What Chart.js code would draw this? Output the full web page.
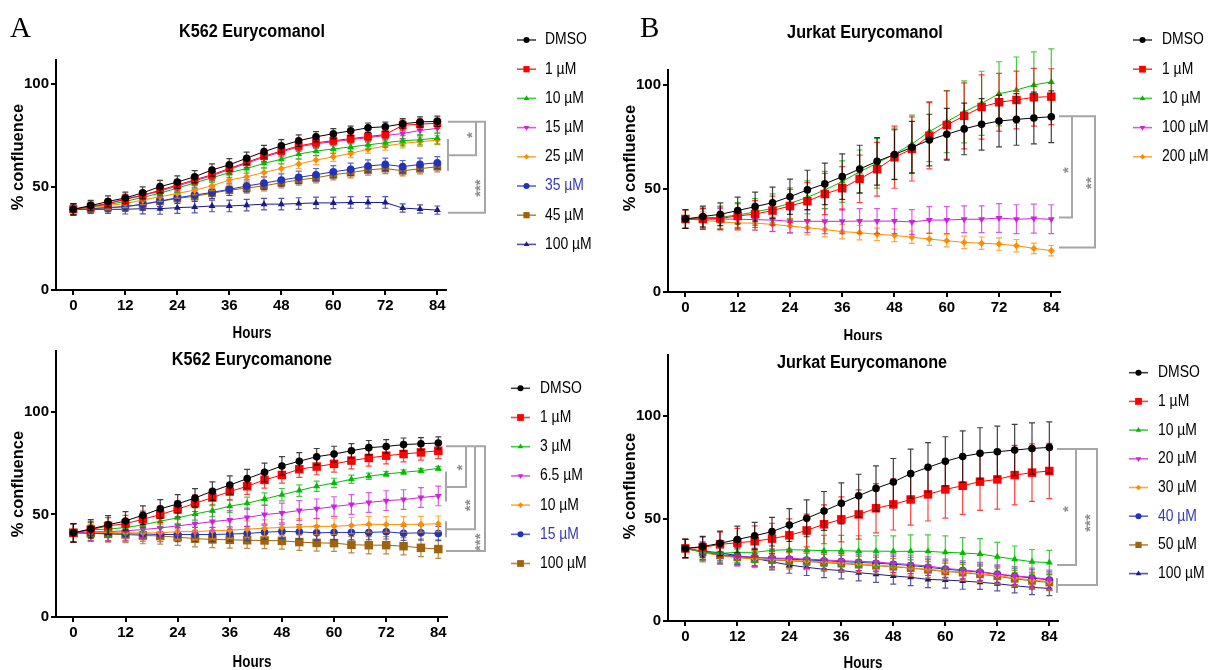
<!DOCTYPE html>
<html><head><meta charset="utf-8">
<script src="https://cdn.jsdelivr.net/npm/chart.js@4.4.1/dist/chart.umd.min.js"></script>
<style>
html,body{margin:0;padding:0;background:#fff;}
#wrap{position:relative;width:1208px;height:670px;overflow:hidden;background:#fff;}
canvas{position:absolute;}
</style></head><body>
<div id="wrap">
<canvas id="cA" width="610" height="340" style="left:0;top:0"></canvas>
<canvas id="cB" width="598" height="340" style="left:610px;top:0"></canvas>
<canvas id="cC" width="610" height="330" style="left:0;top:340px"></canvas>
<canvas id="cD" width="598" height="330" style="left:610px;top:340px"></canvas>
</div>
<script>
// ---------- shared ----------
const hours = [0,4,8,12,16,20,24,28,32,36,40,44,48,52,56,60,64,68,72,76,80,84];
const xTicks = [0,12,24,36,48,60,72,84];
const yTicks = [0,50,100];

// ---------- Panel A: K562 Eurycomanol ----------
const aLabels = ['DMSO','1 µM','10 µM','15 µM','25 µM','35 µM','45 µM','100 µM'];
const aDMSO = [39.2,41,43,44.7,47.2,50.2,52.4,55,58.3,60.8,64,67.2,70,72.5,74.4,75.9,77.3,78.8,79.3,80.7,81.6,81.9];
const a1    = [39.2,40.5,42,44,46,48.5,51,53.5,56,59,62,65,67.5,70,71.5,72.5,73.5,74.5,75.5,80,80.5,81];
const a10   = [39.2,40.5,41.5,43,45,47,49.5,52,54.5,57,59,61.5,63.5,66,67.5,68.5,69.5,70.5,71.5,72.5,73,73.8];
const a15   = [39.2,40.5,42,44.3,46,48,50.5,53,55.5,58.5,61.5,64.5,67,69.5,71,72,73,74,75,76,77.5,78.5];
const a25   = [39.2,40.1,41,42,43.7,45.3,46.9,48.5,50.6,53.4,55,57.1,59,61.2,63.1,64.7,66.3,68.4,69.9,71.2,72,72.8];
const a35   = [39.2,39.5,40,40.5,41.7,43.2,44.8,46.1,47.4,48.9,50.5,51.9,53.4,54.7,56,57.4,58.6,60.2,61,59.9,61,61.8];
const a45   = [39.2,39.5,40,40.5,41.5,43,44.5,45.5,47,48.5,49.5,50.6,52.1,53.4,54.5,56,57,58.3,59,57.9,58.9,59.9];
const a100  = [39.2,39.2,39.2,39.2,39.5,39.5,40,40.3,40.8,40.8,41.2,41.7,41.7,42,42.3,42.3,42.5,42.5,42.5,39.8,39.3,38.8];
const aDMSOErr = [2.7,2.5,2.7,2.8,2.9,3,3,3,3,3,3,3,3,2.8,2.5,2.5,2.3,2.3,2.2,2.5,2.5,2.5];
const a1Err    = [2.7,2.2,2.2,2.3,2.3,2.5,2.5,2.5,2.5,2.5,2.5,2.5,2.3,2.2,2.2,2,2,2.2,2.2,2.5,2.5,2.5];
const a10Err   = [2.7,2,2,2,2,2.2,2.2,2.3,2.3,2.3,2.3,2.3,2.3,2.3,2.2,2.2,2.2,2.2,2.2,2.5,2.5,2.8];
const a15Err   = [2.7,2.2,2.2,2.3,2.3,2.5,2.5,2.5,2.5,2.5,2.5,2.5,2.3,2.2,2.2,2,2,2.2,2.2,2.5,2.5,2.5];
const a25Err   = [2.7,2,2,2,2.2,2.3,2.3,2.3,2.3,2.3,2.3,2.3,2.3,2.2,2.2,2.2,2,2,2,2.2,2.2,2.2];
const a35Err   = [2.7,2,2,2.2,2.5,2.7,2.8,3,3,3,3,3,3,3,3,3,3,3,3,3,3,3];
const a45Err   = [2.7,2,2,2.2,2.3,2.5,2.5,2.5,2.5,2.5,2.5,2.5,2.5,2.5,2.5,2.5,2.5,2.5,2.5,2.5,2.5,2.5];
const a100Err  = [2.5,2,2,2.3,2.5,2.7,2.8,2.8,2.8,2.8,2.8,2.8,2.8,2.8,2.8,2.8,2.8,2.8,2.8,2,2,2];

// ---------- Panel B: Jurkat Eurycomanol ----------
const bLabels = ['DMSO','1 µM','10 µM','100 µM','200 µM'];
const bDMSO = [35.3,36.5,37.6,39.4,41.3,43.2,46.1,49.4,52.3,55.8,59.5,63.2,66.5,70,73.5,76.3,78.9,81.1,82.7,83.5,84.2,84.8];
const b1    = [35.3,35.3,35.6,36.8,37.7,39.4,41.6,43.9,47.4,50.2,54.7,59.4,65.2,69.2,75.6,80.8,85.2,89.5,91.8,92.9,94.2,94.5];
const b10   = [35.3,36,36.1,37.3,38.7,40.5,42.9,45.8,49.4,53.4,58.2,62.3,66.8,71.6,77.6,82.4,87.1,91.3,95.9,97.7,100.2,101.6];
const b100  = [35.3,35.3,35.3,35.2,35,34.8,34.2,34.2,34.2,34.2,34.3,34.3,34.3,33.9,34.8,34.8,35.2,35.2,35.8,35.2,35.5,35.2];
const b200  = [35.3,34.8,33.9,33.4,33.3,32.7,31.9,31.1,30.2,29.2,28.7,27.9,27.4,26.5,25.6,24.8,24,23.6,23.2,22.4,21.1,20];
const bDMSOErr = [4.5,5,5.5,6.5,7,7.5,8.5,9.5,10,11,11.5,11.5,12,12.5,12.5,12.5,12.5,12.5,12.5,12.5,12.5,12.5];
const b1Err    = [4.5,5,5.5,6,6.5,7,8,9,10,10.5,11.5,13,15,15.5,16,16.5,16,15.5,14,14,14,13.5];
const b10Err   = [4.5,5,5.5,6,6.5,7,7.5,8,9,10,10.5,12,12.5,14,14.5,15,15,15.5,15.5,16,16,16];
const b100Err  = [4.5,5,5,5,5,5.5,5.5,5.5,6,6,6,6,6,6,6.5,6.5,6.5,6.5,7,7,7,7];
const b200Err  = [4.5,4,3.5,3.5,3.5,3.5,3.5,3.5,3.5,3.5,3.5,3,3,3,3,3,3,3,3,3,2.5,2.5];

// ---------- Panel C: K562 Eurycomanone ----------
const cLabels = ['DMSO','1 µM','3 µM','6.5 µM','10 µM','15 µM','100 µM'];
const cDMSO = [41,42.9,44.9,46.8,49.6,52.7,55.1,58,61.3,64.3,67.4,70.5,73.6,75.9,78.1,79.4,81,82.5,83.1,84,84.4,84.8];
const c1    = [41,42.6,44.4,45.5,47.6,49.9,52.5,55.4,58.2,61.1,63.7,66.8,69.2,72,73.3,74.6,76.2,77.5,78.6,79.4,80.2,81];
const c3    = [41,42.5,42.8,43.6,44.9,46.7,48.3,50.2,51.9,54,55.4,57.5,59.6,61.6,63.7,65.3,67.1,68.6,69.7,70.5,71.3,72.4];
const c65   = [41,41.5,41.6,42,42.6,43.4,44.4,45.4,46.5,47.3,48.5,49.9,50.7,51.9,52.7,53.8,54.8,55.8,56.7,57.2,58.2,59];
const c10   = [41,41,41.2,41,41,41,41.6,41.6,42,42.3,42.8,43.3,43.6,43.9,44.1,44.2,44.6,45.2,45.1,45.1,45.2,45.4];
const c15   = [41,40.8,40.5,40.5,40.4,40.2,40.2,40.2,40.2,40.4,40.7,41.3,41.7,41.5,41,41.2,41.2,41.2,41.5,40.8,41,40.7];
const c100  = [41,40.8,40.5,40.2,39.7,39.5,38.9,38.2,37.8,37.6,37.4,37.3,37.1,36.5,36.1,36,35.2,35,35,34.5,33.7,33.1];
const cDMSOErr = [4.5,4.5,4.5,4.5,4.5,4.5,4.5,4.5,4.5,4.5,4.5,4.5,4.5,4.2,4,3.8,3.5,3.5,3.3,3.2,3,3];
const c1Err    = [4.5,4,4,4,4,4,4,4,4,4,4,4,4,4,4,4,4,4,4,3.8,3.8,3.8];
const c3Err    = [4.5,3.5,3.5,3.5,3.5,3.3,3.2,3,3,3,3,3,3,2.8,2.5,2.3,2,1.5,1.2,1.2,1,1];
const c65Err   = [4.5,4.5,4.5,4.5,4.5,4.5,4.5,4.5,4.5,4.5,4.5,4.5,4.8,4.8,4.8,4.8,4.8,4.8,4.8,4.8,4.8,4.8];
const c10Err   = [4.5,4,4,4,4,4,4,4,4,4,4,4,4,4,4,4,4,3.8,3.8,3.8,3.8,3.8];
const c15Err   = [4.5,3.5,3.5,3.5,3.5,3.5,3.5,3.5,3.5,3.5,3.5,3.5,3.5,3.5,3.5,3.5,3.5,3.5,3.5,3.5,3.5,3.5];
const c100Err  = [4.5,4,4,4,4,4,4,4,4,4,4,4,4,4,4,4,4,4.2,4.2,4.2,4.3,4.5];

// ---------- Panel D: Jurkat Eurycomanone ----------
const dLabels = ['DMSO','1 µM','10 µM','20 µM','30 µM','40 µM','50 µM','100 µM'];
const dDMSO = [35.4,36.3,37.9,39.8,41.6,43.6,46.8,50.1,53.7,57.4,61.1,64.7,67.8,71.9,75,77.9,80.3,81.8,82.6,83.4,84.2,84.7];
const d1    = [35.4,35.9,37.4,38.2,38.9,40.2,41.8,44.2,47.2,49.6,52,55,56.9,59.3,61.8,64.2,66,68,69.1,71.2,72.4,73.2];
const d10   = [35.4,33.8,33,33.5,33.5,34.5,34.8,34.6,34.3,34.3,34.1,34.1,34,34,34,33.5,33.2,32.7,31.4,30.1,28.9,28.5];
const d20   = [35.4,33.8,32.2,31.4,31.1,30.7,30.6,30.2,29.8,29.4,29.1,28.8,28.1,27.6,26.8,25.7,24.9,24.1,22.9,22.1,21.3,20.3];
const d30   = [35.4,33.6,32,31,30.4,30,29.6,29.2,28.8,28.3,27.8,27.2,26.6,26,25.2,24.4,23.8,23,22.2,21,20,19.2];
const d40   = [35.4,33.8,32.4,31.6,31,30.5,30.2,29.8,29.4,29,28.6,28.2,27.7,27.1,26.2,25.3,24.6,23.8,22.8,21.8,21,20];
const d50   = [35.4,33.5,32,31,30.2,29.8,29.4,29,28.5,28,27.5,27,26.5,25.8,25,24.2,23.6,22.8,21.8,20.6,19.6,18.8];
const d100  = [35.4,34.1,33.3,31.9,30.6,28.9,27.3,26.2,25.2,24.6,23.6,22.8,22,21.3,20.3,20,19.5,18.9,18.2,17.2,16.4,15.9];
const dDMSOErr = [4.5,5,6,6.5,6.5,7,8,9,9.5,10,10.5,11,11.5,12,12,12,12.5,12.5,12.5,12.5,12.5,12.5];
const d1Err    = [4.5,5,6,7,7.5,7.5,8,8,9.5,11,12,12,12.5,12.5,13,14,14,14,14.5,14.5,14,13.5];
const d10Err   = [4.5,5,5,5,5,6,7,7.5,7.5,7.5,7.5,7.5,7.5,8,8,8,7.5,7.5,7,6.5,6,6];
const d20Err   = [4.5,4.5,4.5,4.5,4.5,4.5,4.5,4.5,4.5,4.5,4.5,4.5,4.5,4.5,4.5,4.5,4.5,4.5,4.5,4.5,4.5,4.5];
const d30Err   = [4.5,4,4,4,4,4,4,4,4,4,4,4,4,4,4,4,4,4,4,4,4,4];
const d40Err   = [4.5,4,4,4,4,4,4,4,4,4,4,4,4,4,4,4,4,4,4,4,4,4];
const d50Err   = [4.5,4,4,4,4,4,4,4,4,4,4,4,4,4,4,4,4,4,4,4,4,4];
const d100Err  = [4.5,4,4,4,4,4,4,4,4,4,4,4,4,4,4,4,4,3.5,3.5,3.5,3.5,3.5];

// ---------- styles ----------
const COL = {black:'#000000', red:'#ff0000', green:'#00bb00', magenta:'#cc22dd', orange:'#ff8c00',
             blue:'#2233bb', brown:'#a0620a', navy:'#1a1a8c'};
const BLUE_TEXT = '#3838b8';
function rgba(hex,a){const n=parseInt(hex.slice(1),16);return `rgba(${n>>16&255},${n>>8&255},${n&255},${a})`;}
function S(label,data,err,color,style,r,rot,textColor){return {label,data,err,color,style,r,rot:rot||0,textColor:textColor||'#000'};}

const TICK_FONT = {family:'"Liberation Sans Narrow","Arial Narrow","Liberation Sans",Arial,sans-serif', size:15, weight:'bold'};
const SANS = '"Liberation Sans",Arial,Helvetica,sans-serif';

function marker(ctx, style, x, y, r, rot, color){
  ctx.fillStyle = color; ctx.beginPath();
  if (style==='circle') ctx.arc(x,y,r,0,Math.PI*2);
  else if (style==='rect'){const s=r*Math.SQRT1_2; ctx.rect(x-s,y-s,2*s,2*s);}
  else if (style==='rectRot'){ctx.moveTo(x,y-r);ctx.lineTo(x+r,y);ctx.lineTo(x,y+r);ctx.lineTo(x-r,y);ctx.closePath();}
  else if (style==='triangle'){let a=rot*Math.PI/180;
    for(let k=0;k<3;k++){const px=x+Math.sin(a)*r, py=y-Math.cos(a)*r; if(k===0)ctx.moveTo(px,py); else ctx.lineTo(px,py); a+=2*Math.PI/3;}
    ctx.closePath();}
  ctx.fill();
}
function txt(ctx,t,x,y,font,sx,align,color){
  ctx.save(); ctx.translate(x,y); ctx.scale(sx,1); ctx.font=font; ctx.textAlign=align; ctx.textBaseline='middle';
  ctx.fillStyle=color||'#000'; ctx.fillText(t,0,0); ctx.restore();
}

const errPlugin = {
  id:'errbars',
  beforeDatasetDraw(chart,args){
    const ds = chart.data.datasets[args.index]; if(!ds.errors) return;
    const ctx=chart.ctx, ys=chart.scales.y;
    ctx.save(); ctx.strokeStyle=rgba(ds.borderColor,0.75); ctx.lineWidth=1.2;
    args.meta.data.forEach((pt,i)=>{
      const v=ds.data[i].y, e=ds.errors[i];
      const y1=ys.getPixelForValue(v+e), y2=ys.getPixelForValue(v-e), x=pt.x;
      ctx.beginPath();
      ctx.moveTo(x,y1);ctx.lineTo(x,y2);
      ctx.moveTo(x-3,y1);ctx.lineTo(x+3,y1);
      ctx.moveTo(x-3,y2);ctx.lineTo(x+3,y2);
      ctx.stroke();
    });
    ctx.restore();
  }
};

function makeDecor(P){
  return {id:'decor', afterDraw(chart){
    const ctx=chart.ctx, ys=chart.scales.y;
    if(P.letter){ctx.save();ctx.font='29px "Liberation Serif","Times New Roman",serif';ctx.fillStyle='#000';ctx.textAlign='left';ctx.textBaseline='alphabetic';ctx.fillText(P.letter.t,P.letter.x,P.letter.y);ctx.restore();}
    txt(ctx,P.title.t,P.title.x,P.title.y,'bold 18px '+SANS,0.9,'center');
    txt(ctx,'Hours',P.hours.x,P.hours.y,'bold 17px '+SANS,0.79,'center');
    ctx.save(); ctx.translate(P.ylab.x,P.ylab.y); ctx.rotate(-Math.PI/2); ctx.font='bold 16.5px '+SANS;
    ctx.textAlign='center'; ctx.textBaseline='middle'; ctx.fillStyle='#000'; ctx.fillText('% confluence',0,0); ctx.restore();
    // legend
    const L=P.legend;
    P.series.forEach((s,i)=>{
      const y=L.y0+i*L.dy;
      ctx.save(); ctx.strokeStyle=rgba(s.color,0.75); ctx.lineWidth=1.6; ctx.beginPath();
      ctx.moveTo(L.x,y); ctx.lineTo(L.x+19,y); ctx.stroke(); ctx.restore();
      marker(ctx,s.style,L.x+9.5,y,s.r*0.8,s.rot,s.color);
      txt(ctx,s.label,L.tx,y,'16px '+SANS,0.87,'left',s.textColor);
    });
    // brackets
    const B=P.brackets;
    ctx.save(); ctx.strokeStyle='#a6a6a6'; ctx.lineWidth=2; ctx.lineCap='butt';
    const yTop=ys.getPixelForValue(B.top);
    const xMax=Math.max(...B.items.map(it=>it.x));
    ctx.beginPath(); ctx.moveTo(B.x0,yTop); ctx.lineTo(xMax+1,yTop); ctx.stroke();
    B.items.forEach(it=>{
      const yb=ys.getPixelForValue(it.bottom);
      ctx.beginPath(); ctx.moveTo(it.x,yTop); ctx.lineTo(it.x,yb); ctx.lineTo(B.x0,yb); ctx.stroke();
      if(it.group){ctx.beginPath(); ctx.moveTo(B.x0,ys.getPixelForValue(it.group[0])); ctx.lineTo(B.x0,ys.getPixelForValue(it.group[1])); ctx.stroke();}
      ctx.save(); ctx.translate(it.lx,ys.getPixelForValue(it.lv)); ctx.rotate(-Math.PI/2);
      ctx.font='bold 15px '+SANS; ctx.fillStyle='#8c8c8c'; ctx.textAlign='center'; ctx.textBaseline='middle';
      ctx.fillText(it.label,0,3); ctx.restore();
    });
    ctx.restore();
  }};
}

function makeChart(id,P){
  const axisCommon = {
    grid:{display:true,drawOnChartArea:false,drawTicks:true,tickLength:5,color:'#000',lineWidth:2},
    border:{display:true,color:'#000',width:2},
  };
  return new Chart(document.getElementById(id),{
    type:'line',
    data:{datasets:P.series.map(s=>({
      label:s.label, data:hours.map((h,i)=>({x:h,y:s.data[i]})), errors:s.err,
      borderColor:s.color, backgroundColor:s.color, borderWidth:1,
      pointStyle:s.style, pointRadius:s.r, pointHoverRadius:s.r, pointRotation:s.rot,
      pointBackgroundColor:s.color, pointBorderWidth:0, tension:0, fill:false, clip:false
    }))},
    options:{
      responsive:false, animation:false, devicePixelRatio:1, events:[],
      layout:{padding:P.pad},
      scales:{
        x:Object.assign({type:'linear',min:-4,max:86,
          afterBuildTicks:s=>{s.ticks=xTicks.map(v=>({value:v}));},
          afterFit:s=>{s.height=25;},
          ticks:{font:TICK_FONT,color:'#000',padding:2,maxRotation:0,autoSkip:false}},axisCommon),
        y:Object.assign({type:'linear',min:0,max:P.yMax,
          afterBuildTicks:s=>{s.ticks=yTicks.map(v=>({value:v}));},
          afterFit:s=>{s.width=P.yw;},
          ticks:{font:TICK_FONT,color:'#000',padding:2,autoSkip:false}},axisCommon)
      },
      plugins:{legend:{display:false},tooltip:{enabled:false}}
    },
    plugins:[errPlugin,makeDecor(P)]
  });
}

// ---------- Build panels ----------
makeChart('cA',{
  yMax:111.7, yw:56, pad:{left:0,right:164,top:60,bottom:25},
  letter:{t:'A',x:10,y:37}, title:{t:'K562 Eurycomanol',x:252,y:32},
  hours:{x:252,y:333}, ylab:{x:18,y:157},
  legend:{x:517,tx:545,y0:40,dy:29.2},
  series:[
    S(aLabels[0],aDMSO,aDMSOErr,COL.black,'circle',3.8),
    S(aLabels[1],a1,a1Err,COL.red,'rect',5.5),
    S(aLabels[2],a10,a10Err,COL.green,'triangle',4),
    S(aLabels[3],a15,a15Err,COL.magenta,'triangle',4,180),
    S(aLabels[4],a25,a25Err,COL.orange,'rectRot',3.5),
    S(aLabels[5],a35,a35Err,COL.blue,'circle',3.8,0,BLUE_TEXT),
    S(aLabels[6],a45,a45Err,COL.brown,'rect',5.5),
    S(aLabels[7],a100,a100Err,COL.navy,'triangle',4)
  ],
  brackets:{x0:448,top:81.7,items:[
    {x:476,bottom:65.5,group:[73.3,57.8],label:'*',lx:470,lv:75.2},
    {x:485,bottom:37.5,label:'***',lx:478,lv:49.5}
  ]}
});

makeChart('cB',{
  yMax:107.4, yw:58, pad:{left:0,right:148,top:70,bottom:23},
  letter:{t:'B',x:30,y:37}, title:{t:'Jurkat Eurycomanol',x:255,y:33},
  hours:{x:253,y:336}, ylab:{x:20,y:158},
  legend:{x:523,tx:552,y0:40,dy:29.2},
  series:[
    S(bLabels[0],bDMSO,bDMSOErr,COL.black,'circle',3.8),
    S(bLabels[1],b1,b1Err,COL.red,'rect',6),
    S(bLabels[2],b10,b10Err,COL.green,'triangle',4),
    S(bLabels[3],b100,b100Err,COL.magenta,'triangle',4,180),
    S(bLabels[4],b200,b200Err,COL.orange,'rectRot',3.5)
  ],
  brackets:{x0:449,top:85,items:[
    {x:462,bottom:36,label:'*',lx:456,lv:59},
    {x:485,bottom:21.5,label:'**',lx:479,lv:52.7}
  ]}
});

makeChart('cC',{
  yMax:129.6, yw:56, pad:{left:0,right:163,top:10,bottom:28},
  title:{t:'K562 Eurycomanone',x:252,y:20},
  hours:{x:252,y:322}, ylab:{x:18,y:144},
  legend:{x:511,tx:540,y0:48.3,dy:29.2},
  series:[
    S(cLabels[0],cDMSO,cDMSOErr,COL.black,'circle',3.8),
    S(cLabels[1],c1,c1Err,COL.red,'rect',6),
    S(cLabels[2],c3,c3Err,COL.green,'triangle',4),
    S(cLabels[3],c65,c65Err,COL.magenta,'triangle',4,180),
    S(cLabels[4],c10,c10Err,COL.orange,'rectRot',3.5),
    S(cLabels[5],c15,c15Err,COL.blue,'circle',3.8,0,BLUE_TEXT),
    S(cLabels[6],c100,c100Err,COL.brown,'rect',6)
  ],
  brackets:{x0:446,top:83.2,items:[
    {x:466,bottom:63.3,group:[70.9,56.3],label:'*',lx:460,lv:72.8},
    {x:475,bottom:42.7,group:[46.7,38.8],label:'**',lx:468,lv:54.4},
    {x:485,bottom:32.2,label:'***',lx:478,lv:36.4}
  ]}
});

makeChart('cD',{
  yMax:129.8, yw:58, pad:{left:0,right:150,top:15,bottom:24},
  title:{t:'Jurkat Eurycomanone',x:252,y:23},
  hours:{x:253,y:323}, ylab:{x:20,y:146},
  legend:{x:519,tx:548,y0:32.7,dy:28.7},
  series:[
    S(dLabels[0],dDMSO,dDMSOErr,COL.black,'circle',3.8),
    S(dLabels[1],d1,d1Err,COL.red,'rect',6),
    S(dLabels[2],d10,d10Err,COL.green,'triangle',4),
    S(dLabels[3],d20,d20Err,COL.magenta,'triangle',4,180),
    S(dLabels[4],d30,d30Err,COL.orange,'rectRot',3.5),
    S(dLabels[5],d40,d40Err,COL.blue,'circle',3.8,0,BLUE_TEXT),
    S(dLabels[6],d50,d50Err,COL.brown,'rect',5.5),
    S(dLabels[7],d100,d100Err,COL.navy,'triangle',4)
  ],
  brackets:{x0:447,top:83.9,items:[
    {x:466,bottom:27.3,label:'*',lx:456,lv:54.6},
    {x:487,bottom:17.6,group:[21,13.7],label:'***',lx:478,lv:47.8}
  ]}
});
</script>
</body></html>
